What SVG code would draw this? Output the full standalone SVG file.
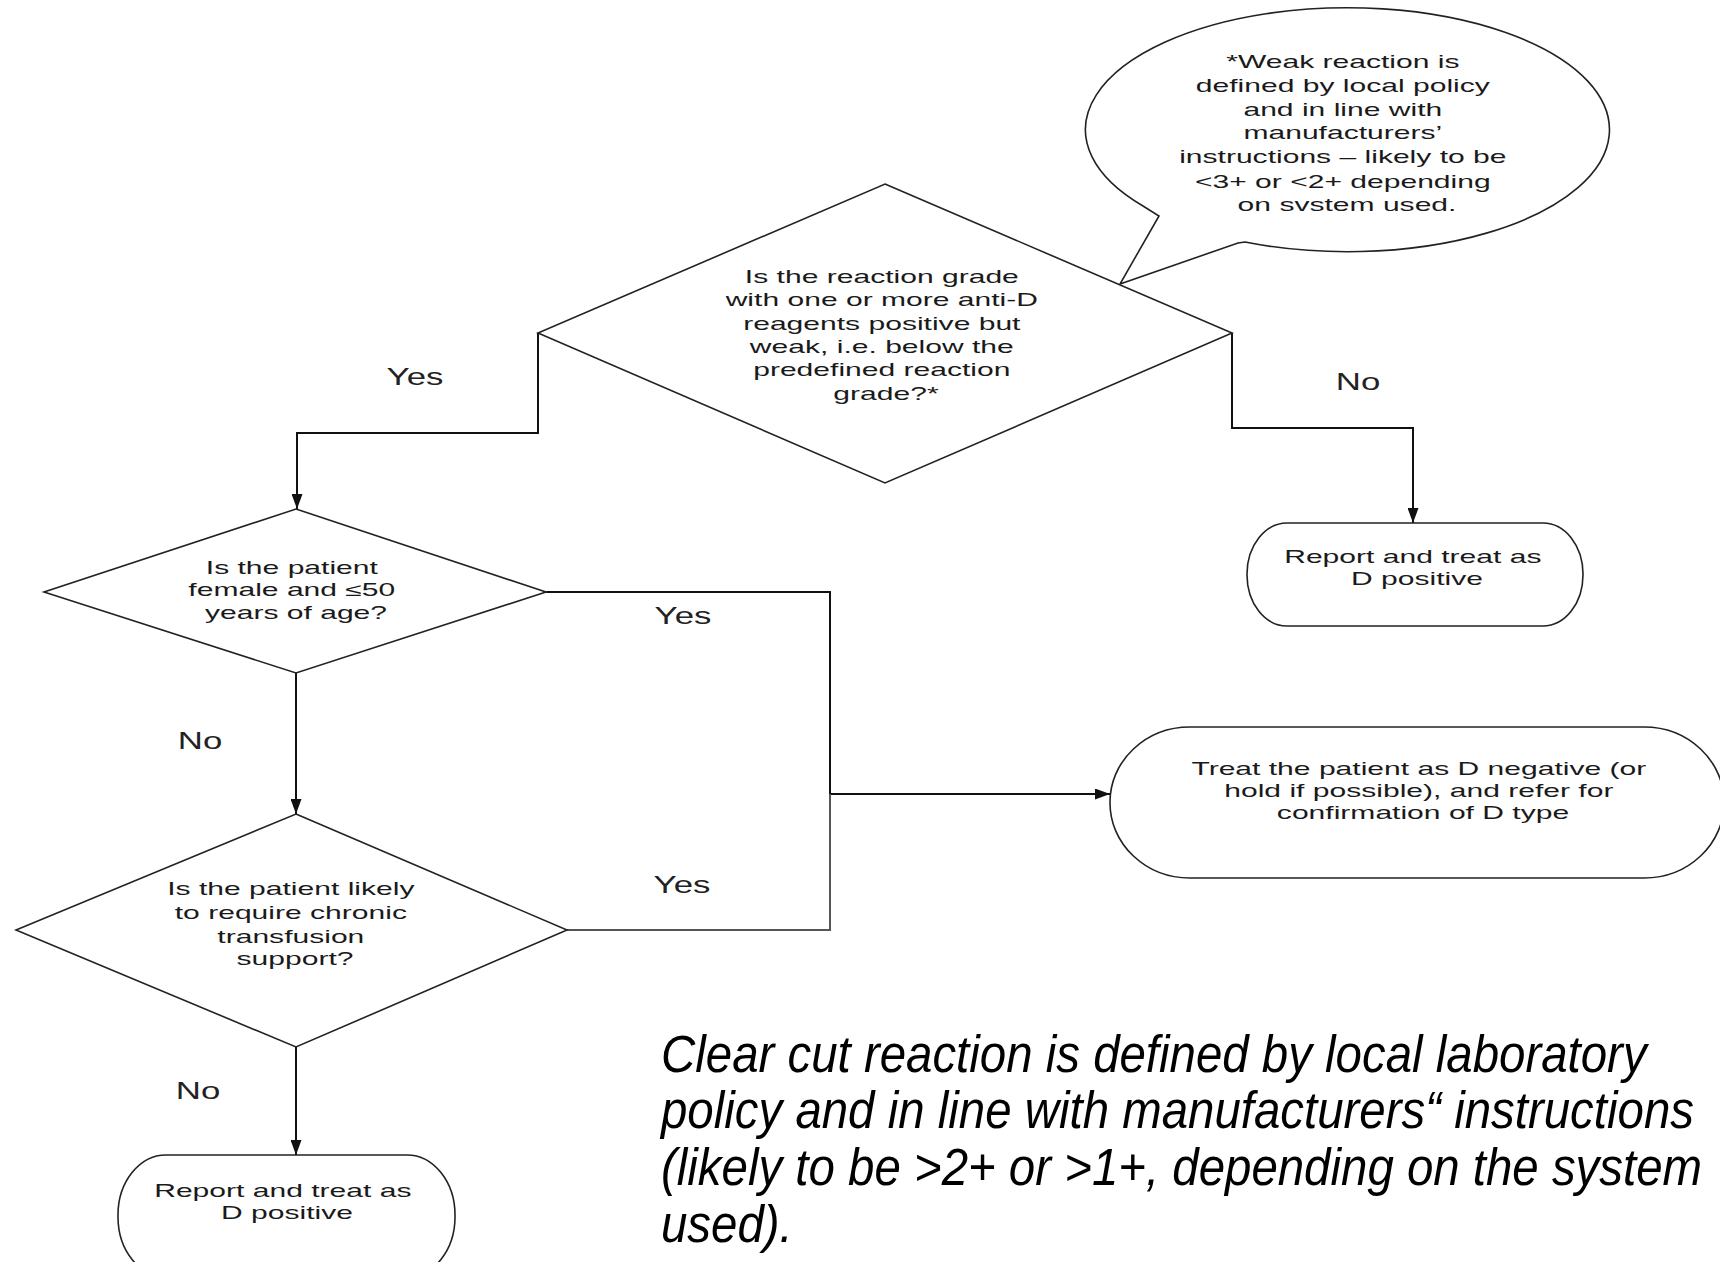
<svg xmlns="http://www.w3.org/2000/svg" width="1720" height="1262" viewBox="0 0 1720 1262">
<style>
.shape{fill:#fff;stroke:#222;stroke-width:1.6}
.conn{fill:none;stroke:#111;stroke-width:2}
.t{font-family:"Liberation Sans",Arial,sans-serif;font-size:18px;fill:#1a1a1a;text-anchor:middle}
.lbl{font-family:"Liberation Sans",Arial,sans-serif;font-size:24px;fill:#222;text-anchor:middle}
.note{font-family:"Liberation Sans",Arial,sans-serif;font-size:52px;font-style:italic;fill:#000}
</style>
<defs>
<marker id="arr" markerUnits="userSpaceOnUse" markerWidth="15" markerHeight="11" refX="15" refY="5.5" orient="auto">
<path d="M0,0 L15,5.5 L0,11 Z" fill="#111"/>
</marker>
</defs>
<rect width="1720" height="1262" fill="#fff"/>

<g id="connectors">
<path class="conn" d="M538,333 V433 H297 V509" marker-end="url(#arr)"/>
<path class="conn" d="M1232,333 V428 H1413 V523" marker-end="url(#arr)"/>
<path class="conn" d="M296,673 V814" marker-end="url(#arr)"/>
<path class="conn" d="M546,592 H830 V794 H1110" marker-end="url(#arr)"/>
<path class="conn" d="M567,930 H830 V794" style="stroke:#555"/>
<path class="conn" d="M296,1047 V1155" marker-end="url(#arr)"/>
</g>

<g id="labels">
<text class="lbl" transform="translate(415 0) scale(1.45 1)" x="0" y="385">Yes</text>
<text class="lbl" transform="translate(1358 0) scale(1.45 1)" x="0" y="390">No</text>
<text class="lbl" transform="translate(683 0) scale(1.45 1)" x="0" y="624">Yes</text>
<text class="lbl" transform="translate(200 0) scale(1.45 1)" x="0" y="749">No</text>
<text class="lbl" transform="translate(682 0) scale(1.45 1)" x="0" y="893">Yes</text>
<text class="lbl" transform="translate(198 0) scale(1.45 1)" x="0" y="1099">No</text>
</g>

<g id="callout">
<path class="shape" d="M1143,206 L1159,216 L1120,284 L1238,243 L1245,242 A262,122 0 1 0 1143,206 Z"/>
<text class="t" transform="translate(1347 0) scale(1.67 1)">
<tspan x="0" y="68">*Weak reaction is</tspan>
<tspan x="0" y="92">defined by local policy</tspan>
<tspan x="0" y="116">and in line with</tspan>
<tspan x="0" y="139">manufacturers’</tspan>
<tspan x="0" y="163">instructions – likely to be</tspan>
<tspan x="0" y="188">&lt;3+ or &lt;2+ depending</tspan>
<tspan x="0" y="211">on svstem used.</tspan>
</text>
</g>

<g id="decision-weak">
<polygon class="shape" points="885,184 1232,333 885,483 538,333"/>
<text class="t" transform="translate(886 0) scale(1.67 1)">
<tspan x="0" y="283">Is the reaction grade</tspan>
<tspan x="0" y="306">with one or more anti-D</tspan>
<tspan x="0" y="330">reagents positive but</tspan>
<tspan x="0" y="353">weak, i.e. below the</tspan>
<tspan x="0" y="376">predefined reaction</tspan>
<tspan x="0" y="400">grade?*</tspan>
</text>
</g>

<g id="terminal-positive-1">
<rect class="shape" x="1247" y="523" width="336" height="103" rx="40" ry="51"/>
<text class="t" transform="translate(1417 0) scale(1.67 1)">
<tspan x="0" y="563">Report and treat as</tspan>
<tspan x="0" y="585">D positive</tspan>
</text>
</g>

<g id="decision-female">
<polygon class="shape" points="296,509 546,592 296,673 44,592"/>
<text class="t" transform="translate(296 0) scale(1.67 1)">
<tspan x="0" y="574">Is the patient</tspan>
<tspan x="0" y="596">female and ≤50</tspan>
<tspan x="0" y="619">years of age?</tspan>
</text>
</g>

<g id="terminal-negative">
<rect class="shape" x="1110" y="727" width="614" height="151" rx="80" ry="75"/>
<text class="t" transform="translate(1423 0) scale(1.67 1)">
<tspan x="0" y="775">Treat the patient as D negative (or</tspan>
<tspan x="0" y="797">hold if possible), and refer for</tspan>
<tspan x="0" y="819">confirmation of D type</tspan>
</text>
</g>

<g id="decision-chronic">
<polygon class="shape" points="296,814 567,930 296,1047 16,930"/>
<text class="t" transform="translate(295 0) scale(1.67 1)">
<tspan x="0" y="895">Is the patient likely</tspan>
<tspan x="0" y="919">to require chronic</tspan>
<tspan x="0" y="943">transfusion</tspan>
<tspan x="0" y="965">support?</tspan>
</text>
</g>

<g id="terminal-positive-2">
<rect class="shape" x="118" y="1155" width="337" height="122" rx="48" ry="60"/>
<text class="t" transform="translate(287 0) scale(1.67 1)">
<tspan x="0" y="1197">Report and treat as</tspan>
<tspan x="0" y="1219">D positive</tspan>
</text>
</g>

<g id="footnote">
<text class="note" transform="translate(661 0) scale(0.912 1)">
<tspan x="0" y="1072">Clear cut reaction is defined by local laboratory</tspan>
<tspan x="0" y="1128">policy and in line with manufacturers“ instructions</tspan>
<tspan x="0" y="1185">(likely to be &gt;2+ or &gt;1+, depending on the system</tspan>
<tspan x="0" y="1242">used).</tspan>
</text>
</g>
</svg>
